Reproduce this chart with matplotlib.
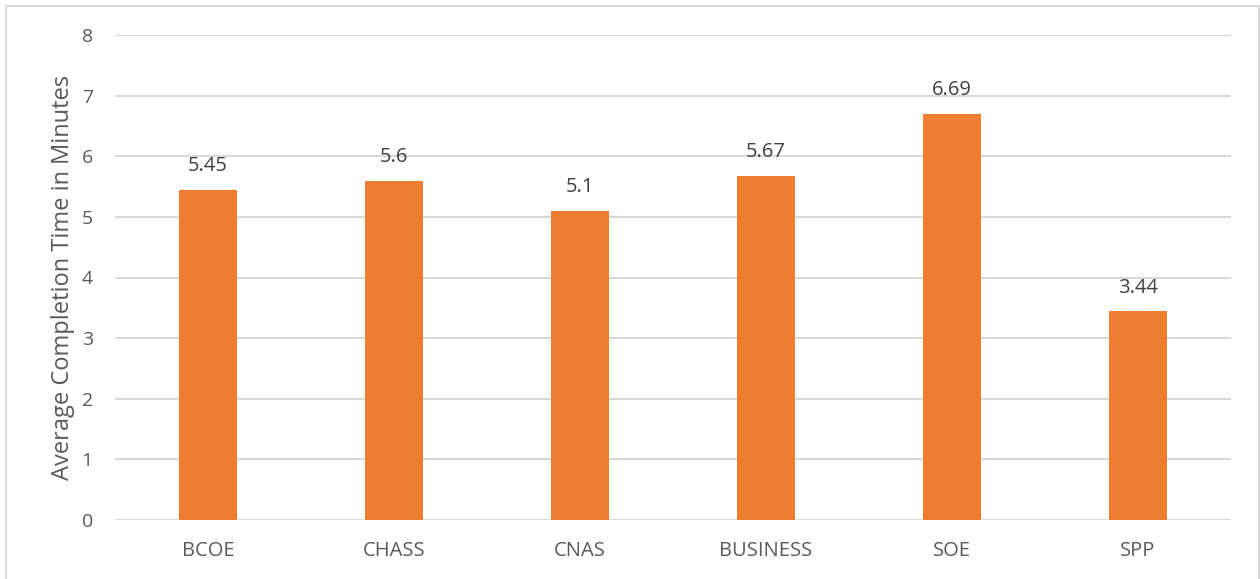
import matplotlib
matplotlib.use("Agg")
import matplotlib.pyplot as plt
from matplotlib.patches import Rectangle

categories = ["BCOE", "CHASS", "CNAS", "BUSINESS", "SOE", "SPP"]
values = [5.45, 5.6, 5.1, 5.67, 6.69, 3.44]
value_labels = ["5.45", "5.6", "5.1", "5.67", "6.69", "3.44"]
y_ticks = [0, 1, 2, 3, 4, 5, 6, 7, 8]

plt.rcParams['font.family'] = ['Open Sans', 'DejaVu Sans']
text_color = "#595959"
grid_color = "#d9d9d9"
bar_color = "#ED7D31"

fig = plt.figure(figsize=(12.6, 5.79), dpi=100)
fig.patches.append(Rectangle((6/1260, -0.01), (1259-6)/1260, 1 - 6/579 + 0.01,
                             transform=fig.transFigure, fill=False,
                             edgecolor=grid_color, linewidth=1.5))
ax = fig.add_axes([115/1260, 1 - 520/579, (1231-115)/1260, (520-35)/579])

x = range(len(categories))
ax.bar(x, values, width=0.317, color=bar_color, zorder=3)
for xi, v, lab in zip(x, values, value_labels):
    ax.text(xi, v + 0.23, lab, ha="center", va="bottom", fontsize=14.5, color="#404040")

ax.set_xlim(-0.5, len(categories) - 0.5)
ax.set_ylim(0, 8)
ax.set_yticks(y_ticks)
ax.set_xticks(list(x))
ax.set_xticklabels(categories)
ax.yaxis.grid(True, color=grid_color, linewidth=1.5, zorder=0)
for s in ax.spines.values():
    s.set_visible(False)
ax.tick_params(axis="both", length=0, colors=text_color)
ax.tick_params(axis="y", pad=16, labelsize=14)
ax.tick_params(axis="x", pad=15, labelsize=14.5)
ax.set_ylabel("Average Completion Time in Minutes", fontsize=17, color=text_color, labelpad=5)

fig.savefig("out.png", dpi=100)
